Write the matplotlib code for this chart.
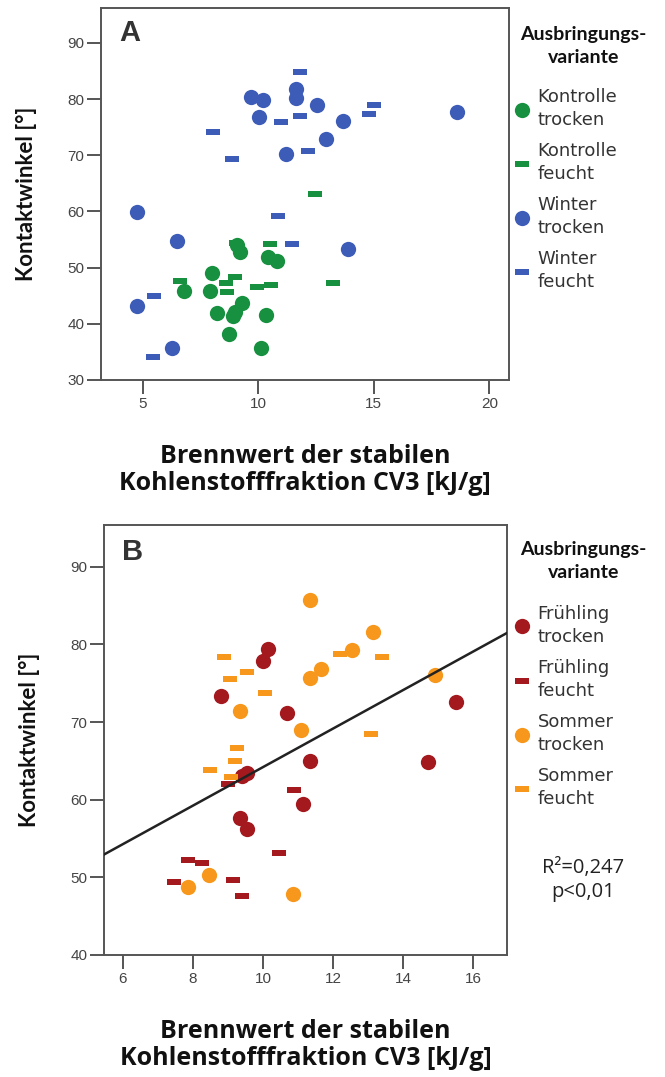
import numpy as np
import matplotlib
matplotlib.use("Agg")
import matplotlib.pyplot as plt
from matplotlib.path import Path

# Panel A: Kontrolle / Winter
ktr_x = [9.1, 9.2, 10.4, 10.8, 8.0, 6.8, 7.9, 9.3, 8.2, 8.9, 9.0, 10.35, 8.75, 10.1]
ktr_y = [54.1, 52.8, 51.9, 51.2, 49.1, 45.9, 45.9, 43.7, 42.0, 41.4, 42.1, 41.6, 38.2, 35.7]
kfe_x = [6.6, 9.0, 8.6, 8.65, 9.95, 10.55, 10.5, 9.05, 12.45, 13.25]
kfe_y = [47.7, 48.4, 47.3, 45.7, 46.6, 46.9, 54.2, 54.4, 63.1, 47.3]
wtr_x = [9.7, 10.2, 10.05, 11.65, 11.65, 11.2, 12.55, 13.65, 12.95, 18.6, 4.75, 6.5, 4.75, 6.25, 13.9]
wtr_y = [80.4, 79.9, 76.8, 81.8, 80.2, 70.2, 79.0, 76.1, 72.9, 77.7, 59.9, 54.8, 43.2, 35.7, 53.3]
wfe_x = [11.8, 11.0, 8.05, 8.85, 11.8, 12.15, 14.8, 15.0, 10.85, 11.45, 5.5, 5.45]
wfe_y = [84.8, 75.9, 74.2, 69.4, 77.0, 70.8, 77.4, 79.0, 59.2, 54.2, 45.0, 34.0]

# Panel B: Frühling / Sommer
ftr_x = [10.15, 10.0, 8.8, 10.7, 15.5, 9.4, 9.55, 9.35, 9.55, 11.35, 14.7, 11.15]
ftr_y = [79.4, 77.9, 73.4, 71.2, 72.6, 63.0, 63.4, 57.6, 56.2, 65.0, 64.9, 59.5]
ffe_x = [7.85, 8.25, 7.45, 9.15, 9.4, 10.45, 10.9, 9.0]
ffe_y = [52.2, 51.9, 49.4, 49.7, 47.6, 53.2, 61.3, 62.0]
str_x = [11.35, 9.35, 13.15, 12.55, 11.65, 11.35, 14.9, 11.1, 8.45, 7.85, 10.85]
str_y = [85.7, 71.4, 81.6, 79.3, 76.8, 75.7, 76.1, 69.0, 50.3, 48.7, 47.9]
sfe_x = [8.9, 9.55, 9.05, 10.05, 12.2, 13.4, 9.25, 9.2, 8.5, 9.1, 13.1]
sfe_y = [78.4, 76.4, 75.5, 73.8, 78.8, 78.4, 66.6, 65.0, 63.8, 62.9, 68.5]

# linear fit shown in panel B
fit_intercept = 39.4
fit_slope = 2.48
fit_text = "R²=0,247\np<0,01"

GREEN = "#17913f"
BLUE = "#3d5cb8"
RED = "#a3191e"
ORANGE = "#f7981d"

dash = Path([(-1, -0.45), (1, -0.45), (1, 0.45), (-1, 0.45), (-1, -0.45)],
            [Path.MOVETO, Path.LINETO, Path.LINETO, Path.LINETO, Path.CLOSEPOLY])

fig = plt.figure(figsize=(6.65, 10.77), dpi=100)
axA = fig.add_axes([0.152, 0.6472, 0.6135, 0.3454])
axB = fig.add_axes([0.1564, 0.1133, 0.606, 0.3993])


def style(ax):
    for s in ax.spines.values():
        s.set_color("#555555")
        s.set_linewidth(1.4)
    ax.tick_params(direction="out", length=10, width=1.4, color="#555555",
                   labelsize=11, labelcolor="#444444", pad=2)
    for lbl in ax.get_xticklabels() + ax.get_yticklabels():
        lbl.set_family("Liberation Sans")
    ax.set_ylabel("Kontaktwinkel [°]", labelpad=22, family="Lato",
                  weight="bold", size=16, color="#111111")
    ax.set_xlabel("Brennwert der stabilen\nKohlenstofffraktion CV3 [kJ/g]",
                  labelpad=24, linespacing=1.12, family="Open Sans",
                  weight="bold", size=18, color="#111111")


def pts(ax, x, y, color, marker, label):
    if marker == "o":
        ax.plot(x, y, ls="none", marker="o", ms=11, color=color, mew=0, label=label)
    else:
        ax.plot(x, y, ls="none", marker=dash, ms=10, color=color, mew=0, label=label)


def legend(ax, top, title_y):
    leg = ax.legend(loc="upper left", bbox_to_anchor=(0.776, top),
                    bbox_transform=fig.transFigure, frameon=False,
                    prop={"family": "DejaVu Sans", "size": 13},
                    labelspacing=0.72, handlelength=0.7, handletextpad=0.5,
                    borderaxespad=0, borderpad=0)
    for t in leg.get_texts():
        t.set_color("#333333")
        t.set_linespacing(1.36)
    fig.text(0.877, title_y, "Ausbringungs-\nvariante", ha="center", va="center",
             family="Lato", weight="bold", size=14, color="#111111",
             linespacing=1.45)
    return leg


# Panel A
pts(axA, ktr_x, ktr_y, GREEN, "o", "Kontrolle\ntrocken")
pts(axA, kfe_x, kfe_y, GREEN, "-", "Kontrolle\nfeucht")
pts(axA, wtr_x, wtr_y, BLUE, "o", "Winter\ntrocken")
pts(axA, wfe_x, wfe_y, BLUE, "-", "Winter\nfeucht")
axA.set_xlim(3.2, 20.85)
axA.set_ylim(30, 96.2)
axA.set_xticks([5, 10, 15, 20])
axA.set_yticks([30, 40, 50, 60, 70, 80, 90])
style(axA)
axA.text(0.045, 0.97, "A", transform=axA.transAxes, ha="left", va="top",
         family="Liberation Sans", weight="bold", size=21, color="#333333")
legend(axA, 0.918, 0.9575)

# Panel B
pts(axB, ftr_x, ftr_y, RED, "o", "Frühling\ntrocken")
pts(axB, ffe_x, ffe_y, RED, "-", "Frühling\nfeucht")
pts(axB, str_x, str_y, ORANGE, "o", "Sommer\ntrocken")
pts(axB, sfe_x, sfe_y, ORANGE, "-", "Sommer\nfeucht")
axB.set_xlim(5.46, 16.97)
axB.set_ylim(40, 95.4)
xs = np.array(axB.get_xlim())
axB.plot(xs, fit_intercept + fit_slope * xs, color="#222222", lw=1.8, zorder=3)
axB.set_xticks([6, 8, 10, 12, 14, 16])
axB.set_yticks([40, 50, 60, 70, 80, 90])
style(axB)
axB.text(0.045, 0.97, "B", transform=axB.transAxes, ha="left", va="top",
         family="Liberation Sans", weight="bold", size=21, color="#333333")
legend(axB, 0.438, 0.4790)
fig.text(0.877, 0.183, fit_text, ha="center", va="center", family="Open Sans",
         size=14.5, color="#222222", linespacing=1.3)

fig.savefig("out.png", dpi=100)
